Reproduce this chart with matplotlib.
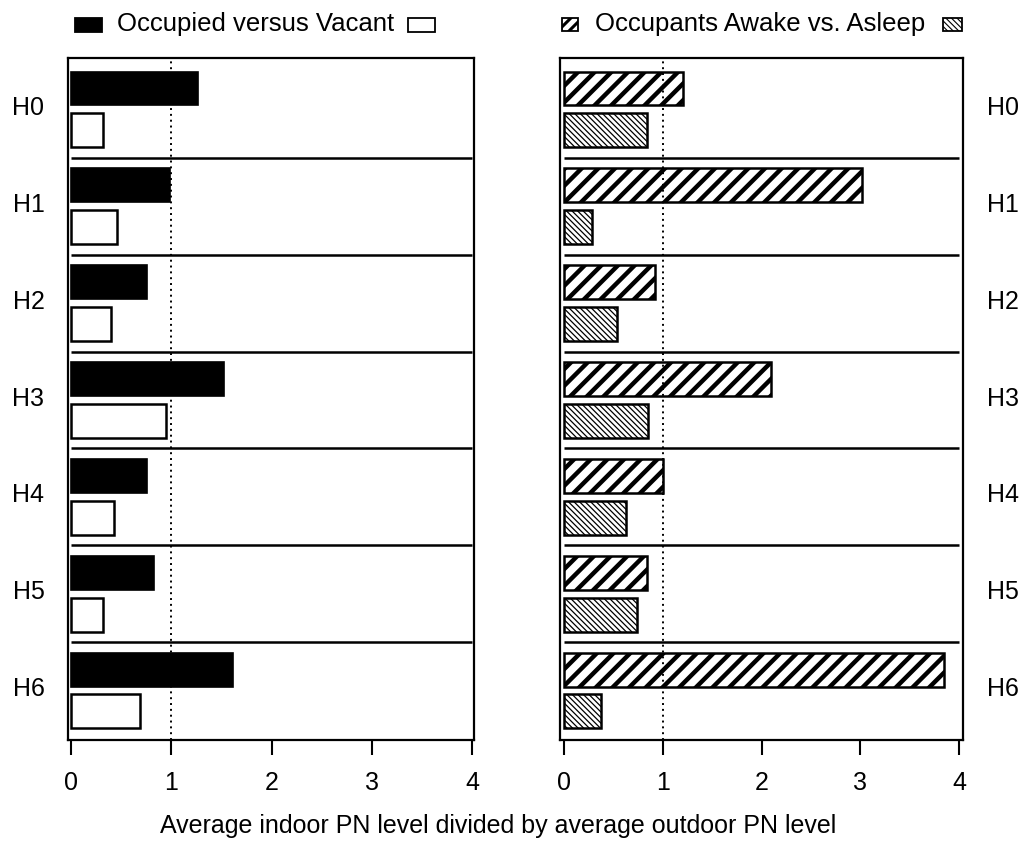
import matplotlib.pyplot as plt
import matplotlib as mpl
from matplotlib.patches import Rectangle
import numpy as np

plt.rcParams['font.family'] = ['Liberation Sans', 'DejaVu Sans']

houses = ["H0", "H1", "H2", "H3", "H4", "H5", "H6"]
occupied = [1.27, 0.99, 0.76, 1.53, 0.76, 0.83, 1.62]
vacant = [0.32, 0.46, 0.40, 0.95, 0.43, 0.32, 0.69]
awake = [1.21, 3.02, 0.92, 2.10, 1.00, 0.84, 3.85]
asleep = [0.84, 0.28, 0.54, 0.85, 0.63, 0.74, 0.38]

FS = 18
FS_LEG = 18.5
W, H = 1023, 844
fig = plt.figure(figsize=(W / 100, H / 100), dpi=100)

def fx(px):
    return px / W

def fy(py):
    return 1 - py / H

axL = fig.add_axes([fx(68), fy(740), fx(474 - 68), fy(58) - fy(740)])
axR = fig.add_axes([fx(560), fy(740), fx(963 - 560), fy(58) - fy(740)])

y = np.arange(len(houses))
h = 0.35


def set_hlw(bars, lw):
    for b in bars:
        if hasattr(b, "set_hatch_linewidth"):
            b.set_hatch_linewidth(lw)


# left panel
axL.barh(y + 0.285, occupied, height=h, color="black", edgecolor="black", lw=1.2)
axL.barh(y + 0.715, vacant, height=h, color="white", edgecolor="black", lw=1.8)

# right panel
with plt.rc_context({"hatch.linewidth": 3.2}):
    b1 = axR.barh(y + 0.285, awake, height=h, color="white", edgecolor="black",
                  lw=1.8, hatch="//")
set_hlw(b1, 3.2)
with plt.rc_context({"hatch.linewidth": 0.9}):
    b2 = axR.barh(y + 0.715, asleep, height=h, color="white", edgecolor="black",
                  lw=1.8, hatch="\\" * 6)
set_hlw(b2, 0.9)

for ax in (axL, axR):
    ax.hlines(y[1:], 0, 4, color="black", lw=1.8)
    ax.axvline(1, color="black", lw=1.4, ls=(0, (1, 2)))
    ax.set_ylim(7.01, -0.03)
    ax.set_xticks([0, 1, 2, 3, 4])
    ax.tick_params(axis="x", direction="out", length=11, width=1.5, pad=11,
                   labelsize=FS)
    ax.set_yticks(y + 0.46)
    ax.set_yticklabels(houses, fontsize=FS)
    ax.tick_params(axis="y", length=0, pad=17)
    for s in ax.spines.values():
        s.set_linewidth(1.6)
axL.set_xlim(-0.03, 4.02)
axR.set_xlim(-0.04, 4.04)
axR.yaxis.tick_right()

# legends drawn at the top
def icon(x0, y0, x1, y1, **kw):
    r = Rectangle((fx(x0), fy(y1)), fx(x1 - x0), fy(y0) - fy(y1),
                  transform=fig.transFigure, edgecolor="black", lw=1.3, **kw)
    fig.add_artist(r)
    return r

icon(75, 18, 102, 32, facecolor="black")
fig.text(fx(117), fy(24), "Occupied versus Vacant", fontsize=FS_LEG, va="center",
         ha="left")
icon(408, 18, 435, 32, facecolor="white")

with plt.rc_context({"hatch.linewidth": 2.2}):
    r1 = icon(562, 18, 578, 31, facecolor="white", hatch="///")
if hasattr(r1, "set_hatch_linewidth"):
    r1.set_hatch_linewidth(2.2)
fig.text(fx(595), fy(24), "Occupants Awake vs. Asleep", fontsize=FS_LEG, va="center",
         ha="left")
with plt.rc_context({"hatch.linewidth": 0.8}):
    r2 = icon(943, 18, 962, 31, facecolor="white", hatch="\\" * 6)
if hasattr(r2, "set_hatch_linewidth"):
    r2.set_hatch_linewidth(0.8)

fig.text(fx(498), fy(826), "Average indoor PN level divided by average outdoor PN level",
         fontsize=FS, ha="center", va="center")

fig.savefig("out.png", dpi=100)
